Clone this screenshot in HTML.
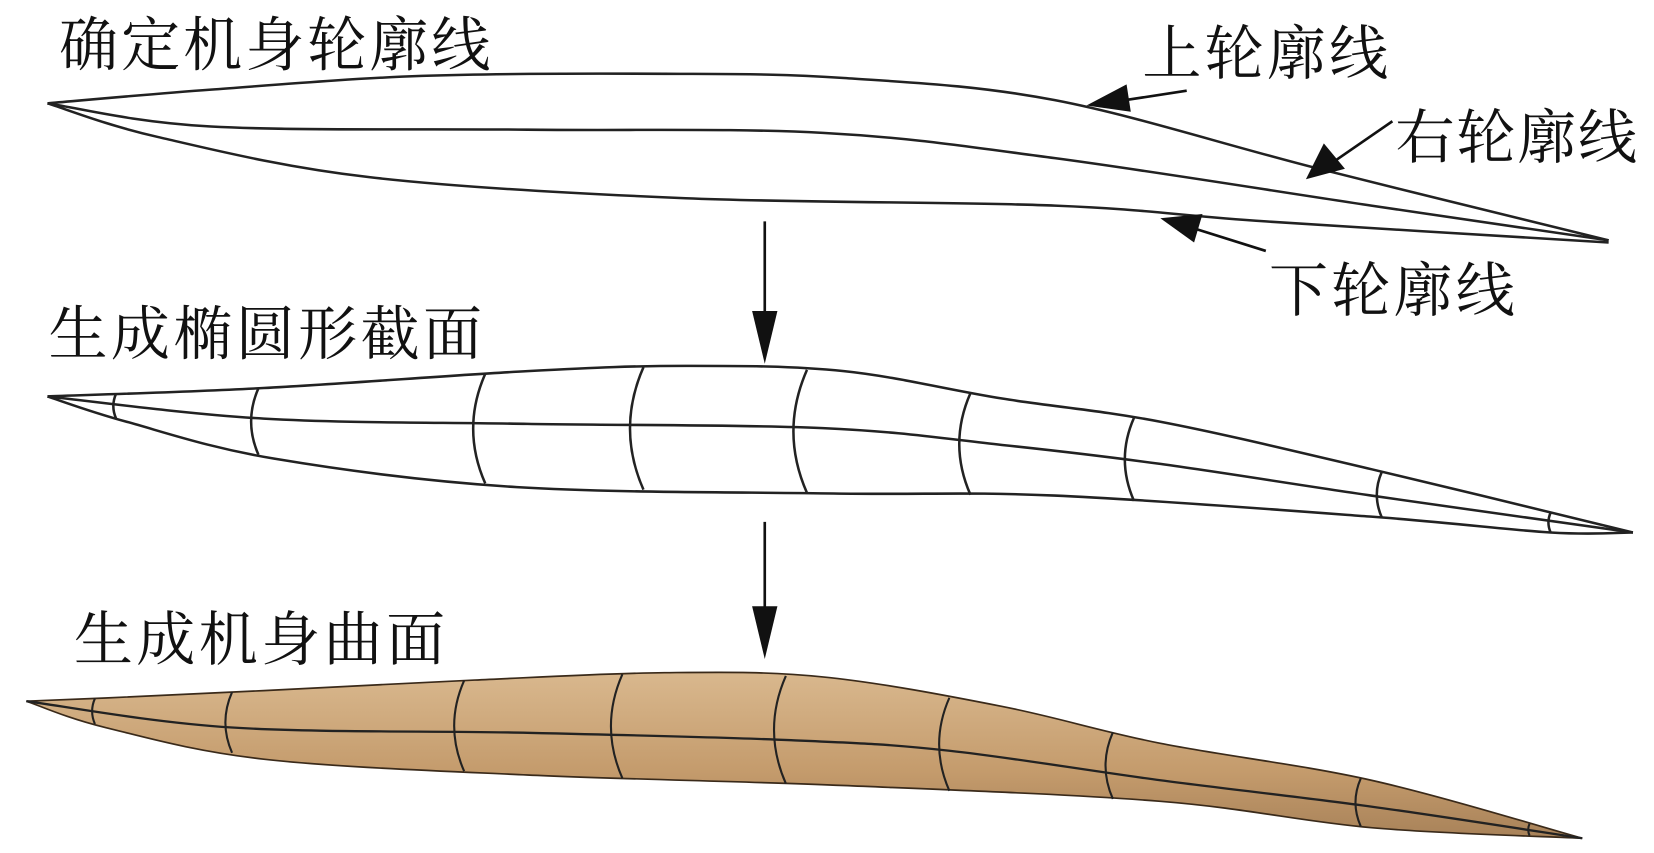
<!DOCTYPE html>
<html><head><meta charset="utf-8"><style>
html,body{margin:0;padding:0;background:#fff;}
svg{display:block;}
text{font-family:"Liberation Serif","Noto Serif CJK SC","Noto Sans CJK SC",serif;font-size:56px;fill:#111;letter-spacing:3px;}
</style></head><body>
<svg id="s" width="1654" height="853" viewBox="0 0 1568 809" preserveAspectRatio="none" xmlns="http://www.w3.org/2000/svg">
<defs>
<linearGradient id="g" x1="0" y1="0" x2="0" y2="1">
<stop offset="0" stop-color="#d9b88e"/><stop offset="0.6" stop-color="#c49b6c"/><stop offset="1" stop-color="#a88259"/>
</linearGradient>
</defs>
<text x="56" y="62" textLength="412">确定机身轮廓线</text>
<text x="1083" y="70" textLength="236">上轮廓线</text>
<text x="1323" y="150" textLength="232">右轮廓线</text>
<text x="1203" y="295" textLength="236">下轮廓线</text>
<text x="46" y="336" textLength="414">生成椭圆形截面</text>
<text x="70" y="626" textLength="355">生成机身曲面</text>
<g id="art" fill="none" stroke="#222" stroke-width="2.4"></g>
<line x1="1125" y1="86" x2="1060" y2="96" stroke="#111" stroke-width="2.5"/>
<polygon points="1030,100 1068,80 1072,106" fill="#111"/>
<line x1="1320" y1="115" x2="1262" y2="155" stroke="#111" stroke-width="2.5"/>
<polygon points="1238,170 1255,136 1275,160" fill="#111"/>
<line x1="1200" y1="238" x2="1130" y2="216" stroke="#111" stroke-width="2.5"/>
<polygon points="1100,207 1140,203 1132,230" fill="#111"/>
<line x1="725" y1="210" x2="725" y2="300" stroke="#111" stroke-width="2.5"/>
<polygon points="713,295 737,295 725,345" fill="#111"/>
<line x1="725" y1="495" x2="725" y2="580" stroke="#111" stroke-width="2.5"/>
<polygon points="713,575 737,575 725,625" fill="#111"/>
</svg>
<script>
function smooth(p){var d="M"+p[0][0]+","+p[0][1];for(var i=0;i<p.length-1;i++){var p0=p[i-1]||p[i],p1=p[i],p2=p[i+1],p3=p[i+2]||p2;var c1x=p1[0]+(p2[0]-p0[0])/6,c1y=p1[1]+(p2[1]-p0[1])/6,c2x=p2[0]-(p3[0]-p1[0])/6,c2y=p2[1]-(p3[1]-p1[1])/6;d+=" C"+c1x+","+c1y+" "+c2x+","+c2y+" "+p2[0]+","+p2[1];}return d;}
function interp(p,x){for(var i=0;i<p.length-1;i++){if(x>=p[i][0]&&x<=p[i+1][0]){var t=(x-p[i][0])/(p[i+1][0]-p[i][0]);return p[i][1]+t*(p[i+1][1]-p[i][1]);}}return p[p.length-1][1];}
var g=document.getElementById("art"),NS="http://www.w3.org/2000/svg";
function path(d,attrs){var e=document.createElementNS(NS,"path");e.setAttribute("d",d);for(var k in attrs)e.setAttribute(k,attrs[k]);g.appendChild(e);return e;}
path(smooth([[45,98],[200,85],[400,72],[630,70],[800,74],[1000,95],[1250,160],[1525,228]]));
path(smooth([[45,98],[200,120],[500,123],[780,126],[1000,150],[1300,195],[1525,228]]));
path(smooth([[45,98],[150,130],[350,168],[650,188],[1000,195],[1200,210],[1525,230]]));
var U2=[[45,376],[250,368],[500,352],[650,347],[800,352],[950,378],[1100,400],[1300,445],[1548,505]];
var M2=[[45,376],[250,397],[500,402],[780,406],[950,422],[1100,440],[1300,470],[1548,505]];
var L2=[[45,376],[120,400],[260,435],[490,462],[790,468],[1000,470],[1300,490],[1470,505],[1548,505]];
path(smooth(U2));path(smooth(M2));path(smooth(L2));
[110,245,460,610,765,920,1075,1310,1470].forEach(function(x){var yu=interp(U2,x),yl=interp(L2,x);var b=(yl-yu)*0.22;path("M"+x+","+yu+" Q"+(x-b)+","+((yu+yl)/2)+" "+x+","+yl);});
var U3=[[25,665],[100,662],[250,655],[450,645],[630,638],[780,642],[950,670],[1100,705],[1300,740],[1500,795]];
var L3=[[25,665],[100,690],[250,720],[500,735],[800,745],[1100,760],[1300,785],[1500,795]];
var M3=[[25,665],[220,690],[500,695],[750,702],[900,712],[1100,740],[1300,765],[1500,795]];
var Lr=L3.slice().reverse();
var d=smooth(U3)+" "+smooth(Lr).replace(/^M[^ ]+/,"")+" Z";
path(d,{fill:"url(#g)",stroke:"#3a2a1a","stroke-width":"1.6"});
path(smooth(M3),{stroke:"#222","stroke-width":"2.2"});
[90,220,440,590,745,900,1055,1290,1450].forEach(function(x){var yu=interp(U3,x),yl=interp(L3,x);var b=(yl-yu)*0.22;path("M"+x+","+yu+" Q"+(x-b)+","+((yu+yl)/2)+" "+x+","+yl,{"stroke-width":"2"});});
</script>
</body></html>
